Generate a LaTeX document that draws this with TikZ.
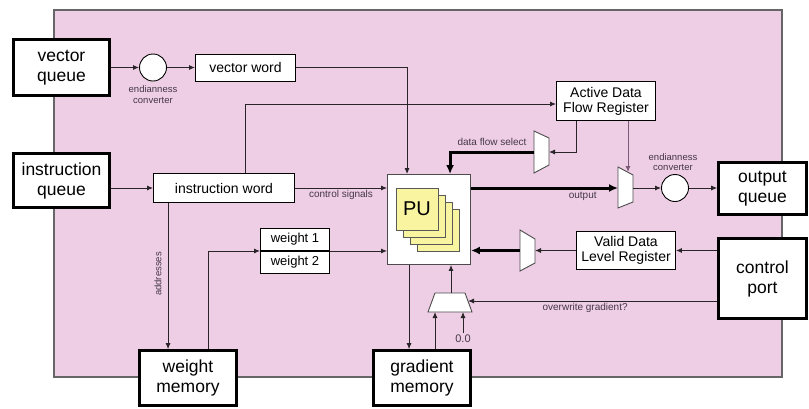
\documentclass[tikz,border=0pt]{standalone}
\usepackage{fontspec}
\setmainfont{Liberation Sans}
\usetikzlibrary{arrows.meta,calc}
\definecolor{bgpink}{RGB}{238,206,228}
\definecolor{puyel}{RGB}{248,244,160}
\definecolor{wirec}{RGB}{40,36,40}
\definecolor{lbl}{RGB}{70,55,70}
\definecolor{purp}{RGB}{125,90,120}
\begin{document}
\begin{tikzpicture}[x=1pt,y=-1pt,
  queue/.style={draw=black, line width=2.6pt, fill=white, align=center, inner sep=0pt,
    font=\fontsize{17.5}{20}\selectfont},
  regbox/.style={draw=black, line width=0.9pt, fill=white, align=center, inner sep=0pt,
    font=\fontsize{14}{15}\selectfont},
  conv/.style={circle, draw=black, line width=0.9pt, fill=white, minimum size=27pt, inner sep=0pt},
  wire/.style={draw=wirec, line width=0.9pt, -{Latex[length=6pt,width=5pt]}},
  fatwire/.style={draw=black, line width=3pt, -{Latex[length=9pt,width=8pt]}},
  small/.style={font=\fontsize{10}{11}\selectfont, text=lbl, inner sep=2pt},
  tiny/.style={font=\fontsize{9.5}{10.5}\selectfont, text=lbl, inner sep=1pt, align=center},
  muxshape/.style={draw=black!70, fill=white, line width=0.9pt},
  pusq/.style={draw=black!65, fill=puyel, line width=0.9pt}
]
\useasboundingbox (0,0) rectangle (809,408);
\fill[white] (0,0) rectangle (809,408);
\draw[fill=bgpink, draw=black!60, line width=1.5pt] (54,10) rectangle (782,377);

% big boxes
\node[queue, minimum width=96pt, minimum height=56pt] (vq) at (61.5,67.5) {vector\\queue};
\node[queue, minimum width=96pt, minimum height=54pt] (iq) at (61.5,180.5) {instruction\\queue};
\node[queue, minimum width=97pt, minimum height=55pt] (wm) at (188,378) {weight\\memory};
\node[queue, minimum width=97pt, minimum height=55pt] (gm) at (422,378) {gradient\\memory};
\node[queue, minimum width=88pt, minimum height=52pt] (oq) at (762.5,188.5) {output\\queue};
\node[queue, minimum width=88pt, minimum height=80pt] (cp) at (762.5,278.5) {control\\port};

% registers
\node[regbox, minimum width=100pt, minimum height=27pt] (vw) at (245.5,67.5) {vector word};
\node[regbox, minimum width=141pt, minimum height=29pt] (iw) at (224,188) {instruction word};
\node[regbox, minimum width=99pt, minimum height=39pt] (adfr) at (606,101) {Active Data\\Flow Register};
\node[regbox, minimum width=99pt, minimum height=38pt] (vdlr) at (626,250.5) {Valid Data\\Level Register};
\node[regbox, minimum width=69pt, minimum height=22pt, font=\fontsize{13}{14}\selectfont] (w1) at (295,239.5) {weight 1};
\node[regbox, minimum width=69pt, minimum height=22pt, font=\fontsize{13}{14}\selectfont] (w2) at (295,262) {weight 2};

% converters
\node[conv] (c1) at (153,67.5) {};
\node[conv] (c2) at (675,188) {};
\node[tiny, anchor=north] at ($(c1.south)+(0,3)$) {endianness\\converter};
\node[tiny, anchor=south] at ($(c2.north)+(-2,-2)$) {endianness\\converter};

% PU
\node[draw=black!70, fill=white, line width=0.9pt, minimum width=83pt, minimum height=90pt] (pu) at (429,219.5) {};
\foreach \i in {3,2,1} {
  \draw[pusq] (396+7*\i,188+7*\i) rectangle ++(42,42);
}
\node[pusq, minimum size=42pt, inner sep=0pt, font=\fontsize{20}{22}\selectfont] (pucore) at (417,209) {PU};

% muxes
\draw[muxshape] (534,131) -- (549,138) -- (549,165) -- (534,173) -- cycle;
\coordinate (dfin) at (549,152);
\coordinate (dfout) at (534,152);
\draw[muxshape] (618,167) -- (633,175) -- (633,202) -- (618,208) -- cycle;
\coordinate (omin) at (618,188);
\coordinate (omout) at (633,188);
\coordinate (omsel) at (628,172);
\draw[muxshape] (520,230) -- (535,239) -- (535,263) -- (520,271) -- cycle;
\coordinate (vdin) at (535,250.5);
\coordinate (vdout) at (520,250.5);
\draw[muxshape] (428,312) -- (435,293) -- (465,293) -- (472,312) -- cycle;
\coordinate (gin1) at (435,312);
\coordinate (gin2) at (463,312);
\coordinate (gout) at (451,293);
\coordinate (gsel) at (468,301);

% connectors
\draw[wire] (vq.east) -- (c1.west);
\draw[wire] (c1.east) -- (vw.west);
\draw[wire] (vw.east) -| ($(pu.north west)+(20,0)$);
\draw[wire] (iq.east |- iw.west) -- (iw.west);
\coordinate (adin) at ($(adfr.west)+(0,3)$);
\draw[wire] ($(iw.north west)+(92,0)$) |- (adin);
\draw[wire] (iw.east) -- (pu.west |- iw.east) node[midway, below, small] {control signals};
\coordinate (addr) at ($(iw.south west)+(15,0)$);
\draw[wire] (addr) -- (addr |- wm.north);
\node[tiny, rotate=90, font=\fontsize{9.5}{10}\selectfont] at (158,274) {addresses};
\coordinate (wmout) at ($(wm.north west)+(70,0)$);
\draw[wire] (wmout) |- (w1.south west);
\draw[wire] (w1.south east) -- (pu.west |- w1.south east);
\coordinate (pud) at ($(pu.south west)+(22,0)$);
\draw[wire] (pud) -- (pud |- gm.north);
\draw[wire] (gm.north -| gin1) -- (gin1);
\node[small, font=\fontsize{11}{12}\selectfont, anchor=north] (zero) at (463,333) {0.0};
\draw[wire] (zero.north) -- (gin2);
\draw[wire] (gout) -- (gout |- pu.south);
\draw[wire] (cp.west |- gsel) -- (gsel) node[pos=0.53, below, small] {overwrite gradient?};
\draw[wire] (cp.west |- vdlr.east) -- (vdlr.east);
\draw[wire] (vdlr.west) -- (vdin);
\draw[fatwire] (vdout) -- (vdout -| pu.east);
\draw[fatwire] (pu.east |- omin) -- (omin) node[pos=0.76, below, small, yshift=-1pt] {output};
\draw[wire] (omout) -- (c2.west);
\draw[wire] (c2.east) -- (oq.west |- c2.east);
\draw[wire, draw=purp] (omsel |- adfr.south) -- (omsel);
\draw[wire] ($(adfr.south west)+(20,0)$) |- (dfin);
\draw[fatwire] (dfout) -| ($(pu.north west)+(63,0)$) node[pos=0.25, above, small, yshift=3pt] {data flow select};
\end{tikzpicture}
\end{document}
